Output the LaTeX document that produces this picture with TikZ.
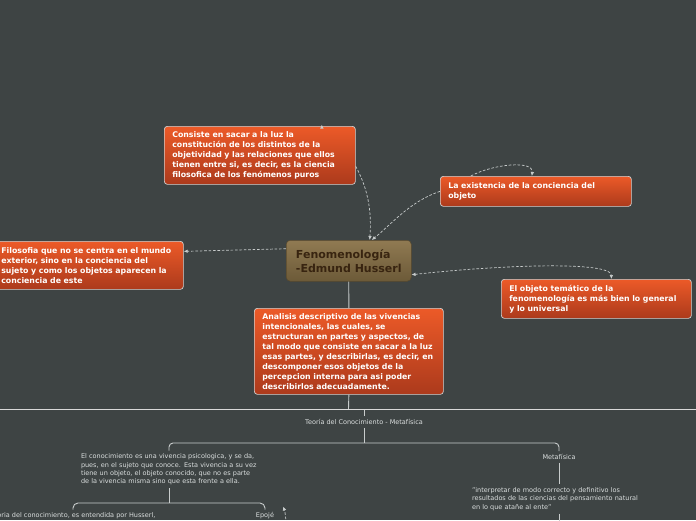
\documentclass[tikz,border=0pt]{standalone}
\usepackage{fontspec}
\setmainfont{DejaVu Sans}
\usepackage{xcolor}
\usetikzlibrary{positioning,arrows.meta,calc}

\definecolor{bgdark}{RGB}{62,68,68}
\definecolor{ortop}{RGB}{236,90,40}
\definecolor{orbot}{RGB}{172,58,28}
\definecolor{brtop}{RGB}{144,122,82}
\definecolor{brbot}{RGB}{108,90,56}
\definecolor{brtext}{RGB}{56,36,16}
\definecolor{linegrey}{RGB}{200,204,204}
\definecolor{txtgrey}{RGB}{218,222,222}

\tikzset{
  topic/.style={rounded corners=3pt, draw=white!82!black, line width=0.7pt,
    top color=ortop, bottom color=orbot, text=white, anchor=north west,
    font=\bfseries\fontsize{7.8}{10}\selectfont, align=left,
    inner xsep=8pt, inner ysep=0pt},
  central/.style={rounded corners=4pt, draw=brbot!80!black, line width=0.5pt,
    top color=brtop, bottom color=brbot, text=brtext, anchor=north west,
    font=\bfseries\fontsize{11}{14}\selectfont, align=left,
    inner xsep=0pt, inner ysep=0pt},
  subtxt/.style={text=txtgrey, font=\fontsize{6.5}{8.3}\selectfont, inner sep=3pt},
  rel/.style={linegrey, line width=0.7pt, dash pattern=on 2.6pt off 1.8pt},
  tip/.style={-{Latex[length=4pt,width=3.6pt]}},
  solid line/.style={linegrey, line width=0.9pt}
}

\begin{document}
\begin{tikzpicture}[x=1pt, y=-1pt]
\fill[bgdark] (0,0) rectangle (696,520);
\useasboundingbox (0,0) rectangle (696,520);

% main topics
\node[central, minimum width=125pt, minimum height=41pt] (feno) at (286,240)
  {Fenomenología\\-Edmund Husserl};
\node[topic, minimum width=191pt, minimum height=58pt, text width=175pt] (sacar) at (164,126)
  {Consiste en sacar a la luz la\\constitución de los distintos de la\\objetividad y las relaciones que ellos\\tienen entre si, es decir, es la ciencia\\filosofica de los fenómenos puros};
\node[topic, minimum width=191pt, minimum height=30pt, text width=175pt] (exist) at (440,176)
  {La existencia de la conciencia del\\objeto};
\node[topic, minimum width=190pt, minimum height=48pt, text width=174pt] (filo) at (-7,241)
  {Filosofia que no se centra en el mundo\\exterior, sino en la conciencia del\\sujeto y como los objetos aparecen la\\conciencia de este};
\node[topic, minimum width=190pt, minimum height=39pt, text width=174pt] (objeto) at (501,279)
  {El objeto temático de la\\fenomenología es más bien lo general\\y lo universal};
\node[topic, minimum width=189pt, minimum height=86pt, text width=173pt] (anal) at (254,308)
  {Analisis descriptivo de las vivencias\\intencionales, las cuales, se\\estructuran en partes y aspectos, de\\tal modo que consiste en sacar a la luz\\esas partes, y describirlas, es decir, en\\descomponer esos objetos de la\\percepcion interna para asi poder\\describirlos adecuadamente.};

% relationships
\coordinate (fenoin) at ([xshift=21pt]feno.north);
\draw[rel, tip] ([yshift=-11pt]sacar.east) .. controls +(12pt,-22pt) and +(2pt,30pt) .. (fenoin);
\draw[rel, tip] (exist.west) .. controls +(-30pt,-10pt) and +(20pt,16pt) .. ([xshift=2pt]fenoin);
\draw[rel, tip] ([yshift=12pt]feno.west) -- ([yshift=14pt]filo.east);
\draw[rel, {Latex[length=4pt,width=3.6pt]}-{Latex[length=4pt,width=3.6pt]}]
  ([yshift=-14pt]feno.east) .. controls +(90pt,10pt) and +(0pt,18pt) .. ([xshift=15pt]objeto.north);
\draw[rel, tip] ([xshift=-65pt]exist.north) .. controls +(22pt,12pt) and +(2pt,16pt) .. ([xshift=-4pt]exist.north);
\draw[solid line, tip] ([xshift=62pt]sacar.north) -- ++(0pt,1.5pt);

% trunk
\coordinate (hl) at (348.5,409);
\draw[solid line] (feno.south) -- (anal.north);
\draw[solid line] (anal.south) -- (hl);
\draw[white!85!black, line width=1pt] (0,409) -- (696,409);

% lower branch
\node[subtxt] (teoria) at (364,422) {Teoría del Conocimiento - Metafísica};
\node[subtxt, text width=184pt, align=left] (conoc) at (173,469.5)
  {El conocimiento es una vivencia psicologica, y se da,\\pues, en el sujeto que conoce. Esta vivencia a su vez\\tiene un objeto, el objeto conocido, que no es parte\\de la vivencia misma sino que esta frente a ella.};
\node[subtxt] (metaf) at (559,457) {Metafísica};
\node[subtxt, text width=184pt, align=left] (interp) at (564,499)
  {"interpretar de modo correcto y definitivo los\\resultados de las ciencias del pensamiento natural\\en lo que atañe al ente"};
\node[subtxt] (husserl) at (73,516) {Teoria del conocimiento, es entendida por Husserl,};
\node[subtxt] (epoje) at (265,516) {Epojé};

\coordinate (bar) at (364,443);
\coordinate (brace) at (169,503);
\coordinate (down) at (559,526);
\coordinate (loose) at (286,528);
\draw[solid line] (teoria.north) -- (364,409.5);
\draw[solid line] (teoria.south) -- (bar);
\draw[solid line, rounded corners=4pt] (brace |- conoc.north) |- (bar) -| (metaf.north);
\draw[solid line] (brace |- conoc.south) -- (brace);
\draw[solid line, rounded corners=5pt] (husserl.north) |- (brace) -| (epoje.north);
\draw[solid line] (metaf.south) -- (metaf.south |- interp.north);
\draw[solid line] (down |- interp.south) -- (down);
\draw[rel, tip] (loose) .. controls +(0pt,10pt) and +(2pt,-6pt) .. ([xshift=6pt,yshift=3pt]epoje.north east);
\end{tikzpicture}
\end{document}
